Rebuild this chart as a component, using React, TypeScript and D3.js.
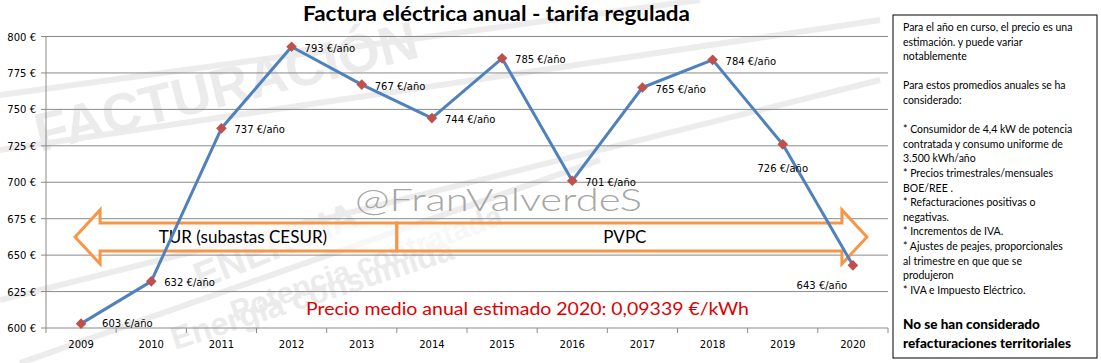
import React from "react";
import * as d3 from "d3";

const years = ["2009", "2010", "2011", "2012", "2013", "2014", "2015", "2016", "2017", "2018", "2019", "2020"];
const costs = [603, 632, 737, 793, 767, 744, 785, 701, 765, 784, 726, 643];
const yTicks = [600, 625, 650, 675, 700, 725, 750, 775, 800];
// where each value label sits relative to its point
const labelPlacement = ["farRight", "right", "right", "right", "right", "right", "right", "right", "right", "right", "below", "belowLeft"];

const periods = [
  { name: "TUR (subastas CESUR)", from: "2009", to: "2013", dir: "left" },
  { name: "PVPC", from: "2014", to: "2020", dir: "right" },
];

const noteLines = [
  "Para el año en curso, el precio es una",
  "estimación. y puede variar",
  "notablemente",
  "",
  "Para estos promedios anuales se ha",
  "considerado:",
  "",
  "* Consumidor de 4,4 kW de potencia",
  "contratada y consumo uniforme de",
  "3.500 kWh/año",
  "* Precios trimestrales/mensuales",
  "BOE/REE .",
  "* Refacturaciones positivas o",
  "negativas.",
  "* Incrementos de IVA.",
  "* Ajustes de peajes, proporcionales",
  "al trimestre en que que se",
  "produjeron",
  "* IVA e Impuesto Eléctrico.",
];
const noteBold = ["No se han considerado", "refacturaciones territoriales"];

const title = "Factura eléctrica anual - tarifa regulada";
const avgNote = "Precio medio anual estimado 2020: 0,09339 €/kWh";
const signature = "@FranValverdeS";

export default function App() {
  const width = 1101;
  const height = 363;
  const margin = { top: 36.5, left: 46, right: 213, bottom: 35 };

  const x = d3.scaleBand().domain(years).range([margin.left, width - margin.right]);
  const y = d3.scaleLinear().domain([600, 800]).range([height - margin.bottom, margin.top]);
  const cx = (yr: string) => x(yr)! + x.bandwidth() / 2;

  const line = d3
    .line<number>()
    .x((_, i) => cx(years[i]))
    .y((d) => y(d));

  const fmt = (v: number) => `${v} €/año`;
  const axisFont = "DejaVu Sans, Verdana, sans-serif";
  const calibri = "Lato, Carlito, Calibri, sans-serif";

  // arrows for the two tariff periods
  const arrowY = y(662.5);
  const shaftH = 14;
  const headH = 27;
  const headL = 25;
  const split = x("2014")!;
  const arrowPath = (p: (typeof periods)[number]) => {
    if (p.dir === "left") {
      const tip = cx(p.from) - 6;
      const end = split;
      const hb = tip + headL;
      return `M${tip},${arrowY} L${hb},${arrowY - headH} L${hb},${arrowY - shaftH} L${end},${arrowY - shaftH} L${end},${arrowY + shaftH} L${hb},${arrowY + shaftH} L${hb},${arrowY + headH} Z`;
    }
    const tip = cx(p.to) + 14;
    const start = split;
    const hb = tip - headL;
    return `M${tip},${arrowY} L${hb},${arrowY - headH} L${hb},${arrowY - shaftH} L${start},${arrowY - shaftH} L${start},${arrowY + shaftH} L${hb},${arrowY + shaftH} L${hb},${arrowY + headH} Z`;
  };
  const arrowTextX = (p: (typeof periods)[number]) =>
    p.dir === "left" ? (cx(p.from) + split) / 2 + 4 : (split + cx(p.to)) / 2;

  const labelPos = (i: number) => {
    const px = cx(years[i]);
    const py = y(costs[i]);
    switch (labelPlacement[i]) {
      case "farRight":
        return { x: px + 21, y: py + 3, anchor: "start" };
      case "below":
        return { x: px, y: py + 28, anchor: "middle" };
      case "belowLeft":
        return { x: px - 31, y: py + 24, anchor: "middle" };
      default:
        return { x: px + 13, y: py + 5, anchor: "start" };
    }
  };

  const boxX = 893;
  const boxY = 15;

  return (
    <svg width={width} height={height} style={{ position: "absolute", left: 0, top: 0, background: "#fff" }}>
      {/* faint background picture */}
      <g fill="none" stroke="#ececec" strokeWidth={6}>
        <path d="M0,95 L700,0" />
        <path d="M0,150 L880,20" />
        <path d="M0,300 L880,80" />
        <path d="M20,363 L600,160" />
      </g>
      <g fill="#ebebeb" fontFamily="Liberation Sans, Arial, sans-serif" fontWeight="bold">
        <text x={40} y={152} fontSize={54} transform="rotate(-14 40 152)">FACTURACIÓN</text>
        <text x={200} y={290} fontSize={38} transform="rotate(-22 200 290)">ENERGIA</text>
        <text x={235} y={322} fontSize={30} transform="rotate(-20 235 322)">Potencia contratada</text>
        <text x={175} y={350} fontSize={32} transform="rotate(-18 175 350)">Energía consumida</text>
      </g>

      <text
        x={(303 + 690) / 2}
        y={21}
        textAnchor="middle"
        fontFamily={calibri}
        fontWeight="bold"
        fontSize={21}
        textLength={387}
        lengthAdjust="spacingAndGlyphs"
      >
        {title}
      </text>

      {/* gridlines and y axis */}
      <g>
        {yTicks.map((t) => (
          <g key={t}>
            <line x1={margin.left - 5} x2={width - margin.right} y1={y(t)} y2={y(t)} stroke="#8a8a8a" strokeWidth={1} />
            <text x={margin.left - 10} y={y(t) + 4} textAnchor="end" fontFamily={axisFont} fontSize={10}>
              {`${t} €`}
            </text>
          </g>
        ))}
        <line x1={margin.left} x2={margin.left} y1={y(800)} y2={y(600)} stroke="#8a8a8a" />
      </g>

      {/* x axis */}
      <g>
        {years.map((yr) => (
          <g key={yr}>
            <line x1={x(yr)!} x2={x(yr)!} y1={y(600)} y2={y(600) + 5} stroke="#8a8a8a" />
            <text x={cx(yr)} y={y(600) + 20} textAnchor="middle" fontFamily={axisFont} fontSize={10}>
              {yr}
            </text>
          </g>
        ))}
        <line x1={width - margin.right} x2={width - margin.right} y1={y(600)} y2={y(600) + 5} stroke="#8a8a8a" />
      </g>

      <text
        x={355}
        y={211}
        fontFamily={calibri}
        fontWeight={300}
        fontSize={31}
        fill="#a6a6a6"
        textLength={287}
        lengthAdjust="spacingAndGlyphs"
      >
        {signature}
      </text>

      {periods.map((p) => (
        <g key={p.name}>
          <path d={arrowPath(p)} fill="#fff" fillOpacity={0.6} stroke="#F79646" strokeWidth={3} strokeLinejoin="miter" />
        </g>
      ))}
      {periods.map((p) => (
        <text
          key={p.name}
          x={arrowTextX(p)}
          y={arrowY + 6}
          textAnchor="middle"
          fontFamily={calibri}
          fontSize={17}
        >
          {p.name}
        </text>
      ))}

      <text
        x={306}
        y={315}
        fontFamily={calibri}
        fontSize={17}
        fill="#e00000"
        textLength={443}
        lengthAdjust="spacingAndGlyphs"
      >
        {avgNote}
      </text>

      <path d={line(costs)!} fill="none" stroke="#4F81BD" strokeWidth={3} strokeLinejoin="round" />
      {costs.map((v, i) => {
        const px = cx(years[i]);
        const py = y(v);
        return <path key={years[i]} d={d3.symbol(d3.symbolDiamond2, 72)()!} transform={`translate(${px},${py})`} fill="#C0504D" />;
      })}
      {costs.map((v, i) => {
        const p = labelPos(i);
        return (
          <text key={years[i]} x={p.x} y={p.y} textAnchor={p.anchor} fontFamily={axisFont} fontSize={10}>
            {fmt(v)}
          </text>
        );
      })}

      {/* notes box */}
      <rect x={boxX} y={boxY} width={204} height={343} fill="#fff" stroke="#000" strokeWidth={1} />
      <g fontFamily={calibri} fontSize={10.5}>
        {noteLines.map((l, i) => (
          <text key={i} x={boxX + 10} y={boxY + 16 + i * 14.6}>
            {l}
          </text>
        ))}
        {noteBold.map((l, i) => (
          <text key={l} x={boxX + 10} y={boxY + 314 + i * 19} fontWeight={900} fontSize={13.5}>
            {l}
          </text>
        ))}
      </g>
    </svg>
  );
}
